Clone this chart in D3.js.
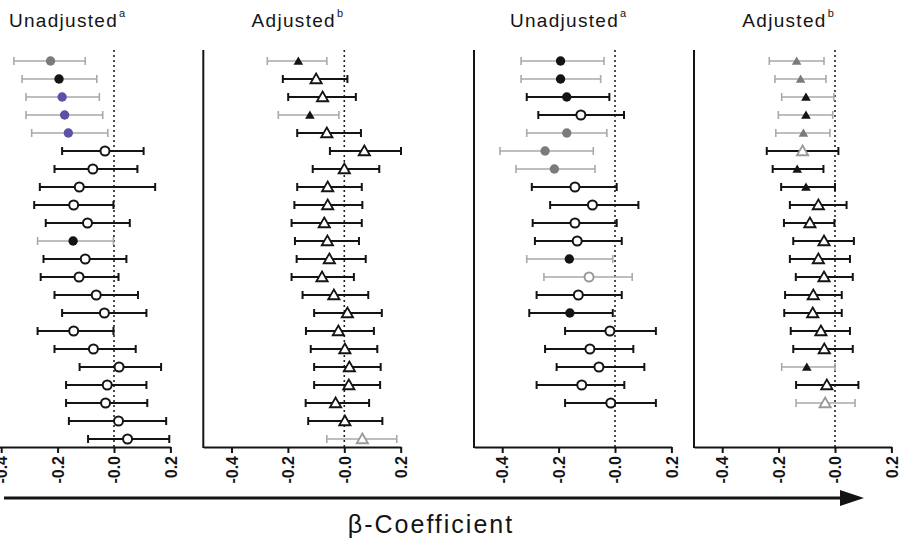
<!DOCTYPE html>
<html>
<head>
<meta charset="utf-8">
<script src="https://cdn.jsdelivr.net/npm/d3@7"></script>
<style>
  body { margin: 0; background: #fff; }
  svg { display: block; }
  text { font-family: "Liberation Sans", Arial, Helvetica, sans-serif; }
</style>
</head>
<body>
<svg id="chart" width="902" height="544"></svg>
<script>
// Shared axis ticks
const tickValues = [-0.4, -0.2, 0.0, 0.2];
const tickLabels = ["-0.4", "-0.2", "-0.0", "0.2"];

// Panel headings and footnote marks
const panelTitles = ["Unadjusted", "Adjusted", "Unadjusted", "Adjusted"];
const titleNotes = ["a", "b", "a", "b"];
const panelShapes = ["circle", "triangle", "circle", "triangle"];
const axisLabel = "\u03B2-Coefficient";

// Marker codes: o = open, og = open grey, k = filled black, g = filled grey, b = filled blue
// Line codes: k = dark interval, g = light interval

// Panel 1 — unadjusted estimates
const p1Est = [-0.225, -0.195, -0.184, -0.175, -0.162, -0.032, -0.075, -0.123, -0.143, -0.094, -0.145,
               -0.102, -0.124, -0.063, -0.034, -0.143, -0.073, 0.018, -0.024, -0.030, 0.016, 0.048];
const p1Lo  = [-0.355, -0.326, -0.312, -0.312, -0.292, -0.184, -0.211, -0.263, -0.283, -0.242, -0.271,
               -0.250, -0.260, -0.211, -0.184, -0.271, -0.211, -0.122, -0.170, -0.170, -0.160, -0.092];
const p1Hi  = [-0.102, -0.061, -0.052, -0.040, -0.022, 0.105, 0.083, 0.146, -0.002, 0.056, -0.002,
               0.044, 0.016, 0.085, 0.115, -0.002, 0.077, 0.167, 0.115, 0.118, 0.185, 0.196];
const p1Mark = ["g", "k", "b", "b", "b", "o", "o", "o", "o", "o", "k",
                "o", "o", "o", "o", "o", "o", "o", "o", "o", "o", "o"];
const p1Line = ["g", "g", "g", "g", "g", "k", "k", "k", "k", "k", "g",
                "k", "k", "k", "k", "k", "k", "k", "k", "k", "k", "k"];

// Panel 2 — adjusted estimates
const p2Est = [-0.163, -0.100, -0.077, -0.122, -0.062, 0.071, 0.000, -0.059, -0.059, -0.071, -0.060,
               -0.053, -0.079, -0.037, 0.011, -0.021, 0.002, 0.018, 0.016, -0.031, 0.002, 0.064];
const p2Lo  = [-0.273, -0.218, -0.199, -0.234, -0.167, -0.051, -0.112, -0.167, -0.177, -0.187, -0.175,
               -0.169, -0.187, -0.148, -0.107, -0.136, -0.119, -0.107, -0.107, -0.137, -0.128, -0.062];
const p2Hi  = [-0.062, 0.011, 0.041, -0.019, 0.059, 0.201, 0.124, 0.062, 0.064, 0.062, 0.052,
               0.076, 0.034, 0.085, 0.133, 0.105, 0.117, 0.129, 0.127, 0.088, 0.135, 0.186];
const p2Mark = ["k", "o", "o", "k", "o", "o", "o", "o", "o", "o", "o",
                "o", "o", "o", "o", "o", "o", "o", "o", "o", "o", "og"];
const p2Line = ["g", "k", "k", "g", "k", "k", "k", "k", "k", "k", "k",
                "k", "k", "k", "k", "k", "k", "k", "k", "k", "k", "g"];

// Panel 3 — unadjusted estimates
const p3Est = [-0.193, -0.193, -0.171, -0.121, -0.171, -0.248, -0.215, -0.142, -0.080, -0.142,
               -0.134, -0.162, -0.092, -0.130, -0.160, -0.018, -0.089, -0.057, -0.118, -0.015];
const p3Lo  = [-0.333, -0.333, -0.313, -0.272, -0.313, -0.408, -0.351, -0.295, -0.230, -0.292,
               -0.284, -0.313, -0.252, -0.278, -0.304, -0.177, -0.248, -0.207, -0.278, -0.177];
const p3Hi  = [-0.039, -0.051, -0.020, 0.032, -0.029, -0.077, -0.071, 0.006, 0.083, 0.006,
               0.024, -0.008, 0.061, 0.024, -0.008, 0.145, 0.065, 0.104, 0.033, 0.145];
const p3Mark = ["k", "k", "k", "o", "g", "g", "g", "o", "o", "o",
                "o", "k", "og", "o", "k", "o", "o", "o", "o", "o"];
const p3Line = ["g", "g", "k", "k", "g", "g", "g", "k", "k", "k",
                "k", "g", "g", "k", "k", "k", "k", "k", "k", "k"];

// Panel 4 — adjusted estimates
const p4Est = [-0.136, -0.122, -0.103, -0.103, -0.112, -0.115, -0.134, -0.103, -0.059, -0.089,
               -0.039, -0.059, -0.039, -0.077, -0.079, -0.050, -0.038, -0.100, -0.029, -0.035];
const p4Lo  = [-0.233, -0.213, -0.189, -0.201, -0.210, -0.242, -0.221, -0.191, -0.160, -0.181,
               -0.148, -0.160, -0.139, -0.177, -0.180, -0.157, -0.148, -0.189, -0.138, -0.138];
const p4Hi  = [-0.039, -0.032, -0.004, -0.008, -0.018, 0.012, -0.041, 0.000, 0.041, -0.002,
               0.067, 0.053, 0.063, 0.024, 0.024, 0.053, 0.063, 0.000, 0.083, 0.071];
const p4Mark = ["g", "g", "k", "k", "g", "og", "k", "k", "o", "o",
                "o", "o", "o", "o", "o", "o", "o", "k", "o", "og"];
const p4Line = ["g", "g", "g", "g", "g", "k", "k", "k", "k", "k",
                "k", "k", "k", "k", "k", "k", "k", "g", "k", "g"];

const panels = [
  { est: p1Est, lo: p1Lo, hi: p1Hi, mark: p1Mark, line: p1Line },
  { est: p2Est, lo: p2Lo, hi: p2Hi, mark: p2Mark, line: p2Line },
  { est: p3Est, lo: p3Lo, hi: p3Hi, mark: p3Mark, line: p3Line },
  { est: p4Est, lo: p4Lo, hi: p4Hi, mark: p4Mark, line: p4Line }
];

// Layout
const svg = d3.select("#chart");
const panelLeft = [-27, 203.3, 474, 694];
const plotWidth = 197.4;
const plotTop = 50, plotBottom = 447;
const rowCount = 22;

const y = d3.scalePoint().domain(d3.range(rowCount)).range([61, 439]);

const markFill = d3.scaleOrdinal()
  .domain(["o", "og", "k", "g", "b"])
  .range(["#fff", "#fff", "#141414", "#7b7b7b", "#5a52a6"]);
const markStroke = d3.scaleOrdinal()
  .domain(["o", "og", "k", "g", "b"])
  .range(["#141414", "#9a9a9a", "#141414", "#7b7b7b", "#5a52a6"]);
const lineColor = d3.scaleOrdinal().domain(["k", "g"]).range(["#141414", "#a9a9a9"]);
const lineWidth = d3.scaleOrdinal().domain(["k", "g"]).range([2, 1.6]);

panels.forEach((p, pi) => {
  const left = panelLeft[pi];
  const x = d3.scaleLinear().domain([-0.5, 0.2]).range([left, left + plotWidth]);
  const g = svg.append("g");
  const rows = p.est.map((e, i) => ({ i, est: e, lo: p.lo[i], hi: p.hi[i], mark: p.mark[i], line: p.line[i] }));

  // Reference line at zero
  g.append("line")
    .attr("x1", x(0)).attr("x2", x(0))
    .attr("y1", plotTop).attr("y2", plotBottom)
    .attr("stroke", "#222").attr("stroke-width", 1.6)
    .attr("stroke-dasharray", "2,3");

  // Left frame line
  g.append("line")
    .attr("x1", left).attr("x2", left)
    .attr("y1", plotTop).attr("y2", plotBottom + 1)
    .attr("stroke", "#141414").attr("stroke-width", 2);

  // Confidence intervals
  const ci = g.append("g").selectAll("g").data(rows).join("g");
  ci.append("line")
    .attr("x1", d => x(d.lo)).attr("x2", d => x(d.hi))
    .attr("y1", d => y(d.i)).attr("y2", d => y(d.i))
    .attr("stroke", d => lineColor(d.line)).attr("stroke-width", d => lineWidth(d.line));
  ["lo", "hi"].forEach(k => {
    ci.append("line")
      .attr("x1", d => x(d[k])).attr("x2", d => x(d[k]))
      .attr("y1", d => y(d.i) - 4).attr("y2", d => y(d.i) + 4)
      .attr("stroke", d => lineColor(d.line)).attr("stroke-width", d => lineWidth(d.line));
  });

  // Point estimates
  const open = m => m === "o" || m === "og";
  if (panelShapes[pi] === "circle") {
    g.append("g").selectAll("circle").data(rows).join("circle")
      .attr("cx", d => x(d.est)).attr("cy", d => y(d.i))
      .attr("r", d => open(d.mark) ? 4.5 : 4.7)
      .attr("fill", d => markFill(d.mark))
      .attr("stroke", d => markStroke(d.mark))
      .attr("stroke-width", d => open(d.mark) ? 2 : 0);
  } else {
    const sym = d3.symbol().type(d3.symbolTriangle);
    g.append("g").selectAll("path").data(rows).join("path")
      .attr("d", d => sym.size(open(d.mark) ? 55 : 40)())
      .attr("transform", d => `translate(${x(d.est)},${y(d.i) + 1})`)
      .attr("fill", d => markFill(d.mark))
      .attr("stroke", d => markStroke(d.mark))
      .attr("stroke-width", d => open(d.mark) ? 1.8 : 0);
  }

  // Bottom axis
  const ax = g.append("g")
    .attr("transform", `translate(0,${plotBottom})`)
    .call(d3.axisBottom(x).tickValues(tickValues)
      .tickFormat((d, i) => tickLabels[i]).tickSize(6).tickSizeOuter(0));
  ax.select(".domain").attr("stroke", "#141414").attr("stroke-width", 2);
  ax.selectAll(".tick line").attr("stroke", "#141414").attr("stroke-width", 2);
  ax.selectAll(".tick text")
    .attr("transform", "rotate(-90)")
    .attr("x", -9).attr("y", 0).attr("dy", "0.36em")
    .attr("text-anchor", "end")
    .attr("font-size", 16).attr("font-weight", "bold")
    .attr("fill", "#141414");

  // Heading
  const t = g.append("text")
    .attr("x", left + plotWidth / 2 - 4).attr("y", 27)
    .attr("text-anchor", "middle")
    .attr("font-size", 19).attr("letter-spacing", 1.3)
    .attr("fill", "#141414");
  t.append("tspan").text(panelTitles[pi]);
  t.append("tspan").attr("font-size", 11).attr("dy", -10).attr("dx", 1).text(titleNotes[pi]);
});

// Shared x-axis arrow
svg.append("line")
  .attr("x1", 4).attr("x2", 842).attr("y1", 498).attr("y2", 498)
  .attr("stroke", "#141414").attr("stroke-width", 3);
svg.append("path")
  .attr("d", d3.line()([[840, 490], [864, 498], [840, 506]]) + "Z")
  .attr("fill", "#141414");

svg.append("text")
  .attr("x", 431).attr("y", 533)
  .attr("text-anchor", "middle")
  .attr("font-size", 25).attr("letter-spacing", 2)
  .attr("fill", "#141414")
  .text(axisLabel);
</script>
</body>
</html>
